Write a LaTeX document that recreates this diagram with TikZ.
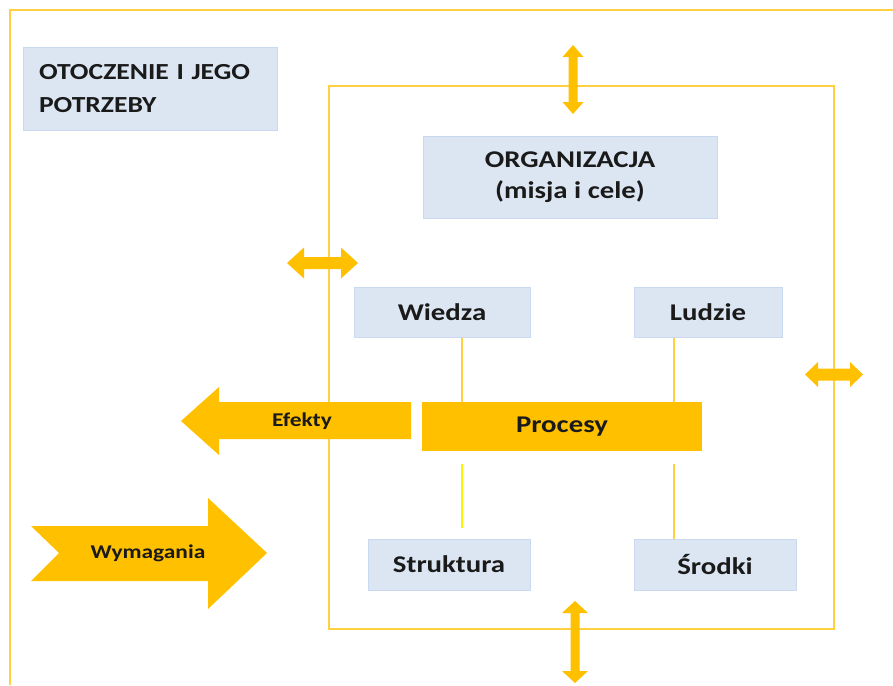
\documentclass[tikz,border=0pt]{standalone}
\usepackage{fontspec}
\setmainfont{Carlito}
\newfontfamily\labelfont[FakeStretch=1.2]{Carlito}
\definecolor{frameline}{HTML}{FFD040}
\definecolor{arrowfill}{HTML}{FFC000}
\definecolor{boxfill}{HTML}{DCE6F2}
\definecolor{boxedge}{HTML}{C9DAF0}
\definecolor{ink}{HTML}{1A1A1A}
\definecolor{brightline}{HTML}{FFF200}
\begin{document}
\begin{tikzpicture}[x=1pt,y=-1pt,
  frame/.style={draw=frameline,line width=2.2pt},
  infobox/.style={rectangle,fill=boxfill,draw=boxedge,line width=1pt,inner sep=0pt,
    text=ink,font=\labelfont\bfseries\fontsize{24}{31}\selectfont,align=center},
  procbox/.style={rectangle,fill=arrowfill,inner sep=0pt,text=ink,
    font=\labelfont\bfseries\fontsize{24}{30}\selectfont},
  blockarrow/.style={fill=arrowfill,draw=none},
  arrowtext/.style={text=ink,font=\labelfont\bfseries\fontsize{19.5}{22}\selectfont},
  link/.style={draw=frameline,line width=1.6pt}]
\useasboundingbox (0,0) rectangle (893,685);

% surroundings: outer frame (only top and left edges lie inside the page)
\draw[frame] (10,685) -- (10,10) -- (893,10);
% organisation: inner frame
\draw[frame,line width=2pt] (329,86) rectangle (834,629);

% exchange arrows across the organisation boundary
\fill[blockarrow] (573,45) -- (583.5,57) -- (577.5,57) -- (577.5,102) -- (583.5,102) -- (573,114)
  -- (562.5,102) -- (568.5,102) -- (568.5,57) -- (562.5,57) -- cycle;
\fill[blockarrow] (575,601) -- (588,613) -- (579.5,613) -- (579.5,671) -- (588,671) -- (575,683)
  -- (562,671) -- (570.5,671) -- (570.5,613) -- (562,613) -- cycle;
\fill[blockarrow] (287,263) -- (304,247.5) -- (304,257) -- (341,257) -- (341,247.5) -- (358,263)
  -- (341,278.5) -- (341,269) -- (304,269) -- (304,278.5) -- cycle;
\fill[blockarrow] (805,374.5) -- (818,362) -- (818,368.5) -- (850,368.5) -- (850,362) -- (863,374.5)
  -- (850,387) -- (850,380.5) -- (818,380.5) -- (818,387) -- cycle;

% outputs and requirements
\fill[blockarrow] (181,421) -- (219,387) -- (219,402) -- (411,402) -- (411,439) -- (219,439)
  -- (219,455) -- cycle;
\fill[blockarrow] (31,526) -- (208,526) -- (208,498) -- (267,553) -- (208,609) -- (208,581)
  -- (31,581) -- (59,553) -- cycle;
\node[arrowtext] (efekty) at (302,421) {Efekty};
\node[arrowtext] (wymagania) at (148,553) {Wymagania};

% boxes
\node[infobox,minimum width=254pt,minimum height=82pt,text width=222pt,align=left,
  font=\labelfont\bfseries\fontsize{23}{33}\selectfont]
  (otoczenie) at (150,89) {OTOCZENIE I JEGO\\POTRZEBY};
\node[infobox,minimum width=294pt,minimum height=82pt] (organizacja) at (570,177)
  {ORGANIZACJA\\(misja i cele)};
\node[infobox,minimum width=176pt,minimum height=50pt] (wiedza) at (442,312) {Wiedza};
\node[infobox,minimum width=148pt,minimum height=50pt] (ludzie) at (708,312) {Ludzie};
\node[infobox,minimum width=162pt,minimum height=51pt] (struktura) at (449,564.5) {Struktura};
\node[infobox,minimum width=162pt,minimum height=51pt] (srodki) at (715,564.5) {Środki};
\node[procbox,minimum width=280pt,minimum height=49pt] (procesy) at (562,426.5) {Procesy};

% links between resources and processes
\coordinate (colL) at (462,0);
\coordinate (colR) at (674,0);
\draw[link] (wiedza.south -| colL) -- (procesy.north -| colL);
\draw[link] (ludzie.south -| colR) -- (procesy.north -| colR);
\draw[link,draw=brightline] ([yshift=-13pt]procesy.south -| colL) -- ([yshift=11pt]struktura.north -| colL);
\draw[link] ([yshift=-13pt]procesy.south -| colR) -- (srodki.north -| colR);
\end{tikzpicture}
\end{document}
